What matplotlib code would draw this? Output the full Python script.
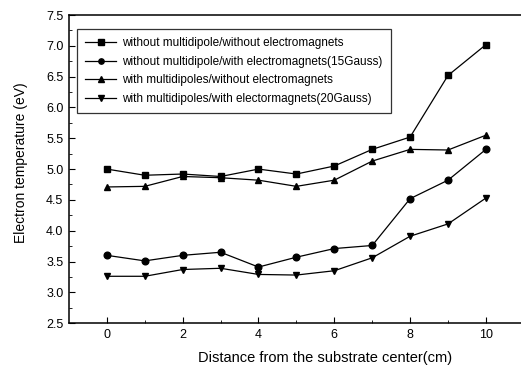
import matplotlib
matplotlib.use("Agg")
import matplotlib.pyplot as plt
from matplotlib.ticker import MultipleLocator

plt.rcParams['font.family'] = ['Liberation Sans', 'DejaVu Sans']

# distance from substrate center (cm)
distance = [0, 1, 2, 3, 4, 5, 6, 7, 8, 9, 10]

# electron temperature (eV) for each configuration
te_none = [5.00, 4.90, 4.92, 4.88, 5.00, 4.92, 5.05, 5.32, 5.52, 6.52, 7.02]
te_em15 = [3.60, 3.51, 3.60, 3.65, 3.41, 3.57, 3.71, 3.76, 4.52, 4.82, 5.32]
te_multi = [4.71, 4.72, 4.88, 4.86, 4.82, 4.72, 4.82, 5.13, 5.32, 5.31, 5.55]
te_multi_em20 = [3.26, 3.26, 3.37, 3.39, 3.29, 3.28, 3.35, 3.56, 3.91, 4.11, 4.53]

labels = ['without multidipole/without electromagnets',
          'without multidipole/with electromagnets(15Gauss)',
          'with multidipoles/without electromagnets',
          'with multidipoles/with electormagnets(20Gauss)']

fig = plt.figure(figsize=(5.21, 3.68), dpi=100)
# right edge of the frame runs just past the figure border
ax = fig.add_axes([0.1324, 0.122, 0.873, 0.837])

series = [(te_none, 's'), (te_em15, 'o'), (te_multi, '^'), (te_multi_em20, 'v')]
for (vals, mk), lab in zip(series, labels):
    ax.plot(distance, vals, color='black', lw=0.9, marker=mk, ms=4.8,
            label=lab)

ax.set_xlim(-1, 11)
ax.set_ylim(2.5, 7.5)
ax.set_xticks([0, 2, 4, 6, 8, 10])
ax.set_xticks([1, 3, 5, 7, 9], minor=True)
ax.yaxis.set_major_locator(MultipleLocator(0.5))
ax.yaxis.set_minor_locator(MultipleLocator(0.25))
ax.yaxis.set_major_formatter(plt.FormatStrFormatter('%.1f'))
ax.tick_params(which='both', direction='in', labelsize=9, pad=4)
ax.tick_params(which='major', length=4)
ax.tick_params(which='minor', length=2)
ax.spines['right'].set_visible(False)
for s in ax.spines.values():
    s.set_linewidth(1.1)

ax.set_xlabel('Distance from the substrate center(cm)', fontsize=10.5)
ax.set_ylabel('Electron temperature (eV)', fontsize=10)
ax.xaxis.set_label_coords(0.563, -0.09)
ax.yaxis.set_label_coords(-0.09, 0.52)

leg = ax.legend(loc='upper left', bbox_to_anchor=(0.018, 0.955),
                borderaxespad=0, fontsize=8.5,
                frameon=True, fancybox=False, edgecolor='black',
                handlelength=2.6, handletextpad=0.5, labelspacing=0.55,
                borderpad=0.7, markerscale=0.8)
leg.get_frame().set_linewidth(0.9)

fig.savefig('out.png', dpi=100)
